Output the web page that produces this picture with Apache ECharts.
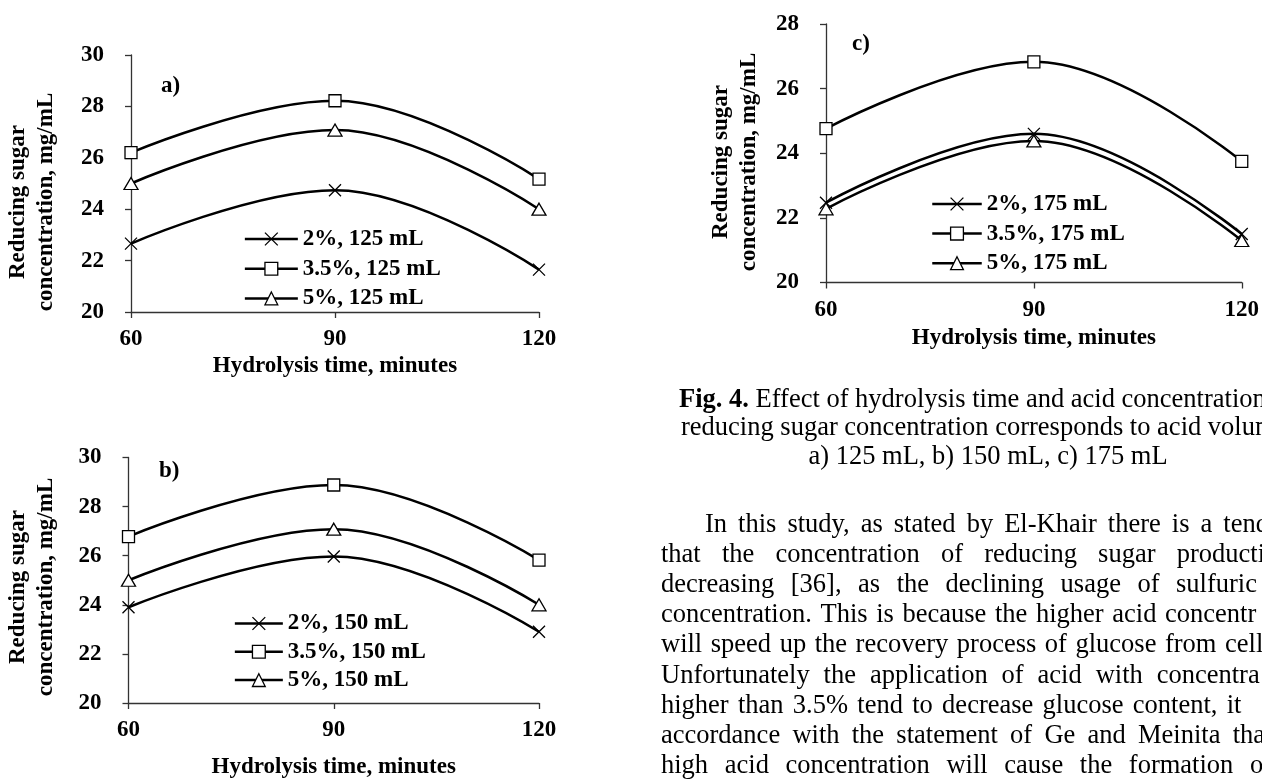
<!DOCTYPE html>
<html><head><meta charset="utf-8">
<script src="https://cdn.jsdelivr.net/npm/echarts@6/dist/echarts.min.js"></script>
<style>html,body{margin:0;padding:0;background:#fff;overflow:hidden}#chart{width:1262px;height:780px}</style>
</head><body><div id="chart"></div>
<script>
// ---------- data ----------
const times = [60, 90, 120];
const xTicks = { min: 60, max: 120, step: 30 };
const yTicksAB = { min: 20, max: 30, step: 2 };
const yTicksC = { min: 20, max: 28, step: 2 };

const namesA = ['2%, 125 mL', '3.5%, 125 mL', '5%, 125 mL'];
const a2  = [22.66, 24.74, 21.65];
const a35 = [26.20, 28.22, 25.17];
const a5  = [25.00, 27.08, 24.00];

const namesB = ['2%, 150 mL', '3.5%, 150 mL', '5%, 150 mL'];
const b2  = [23.90, 25.97, 22.90];
const b35 = [26.78, 28.88, 25.82];
const b5  = [25.00, 27.08, 24.00];

const namesC = ['2%, 175 mL', '3.5%, 175 mL', '5%, 175 mL'];
const c2  = [22.47, 24.60, 21.50];
const c35 = [24.76, 26.83, 23.75];
const c5  = [22.28, 24.38, 21.30];

const panelLabels = ['a)', 'b)', 'c)'];
const yTitle = 'Reducing sugar\nconcentration, mg/mL';
const xTitle = 'Hydrolysis time, minutes';

const captionBold = 'Fig. 4.';
const captionLines = [
  ' Effect of hydrolysis time and acid concentration on',
  'reducing sugar concentration corresponds to acid volume',
  'a) 125 mL, b) 150 mL, c) 175 mL'
];
const bodyLines = [
  'In this study, as stated by El-Khair there is a tend',
  'that the concentration of reducing sugar productio',
  'decreasing [36], as the declining usage of sulfuric',
  'concentration. This is because the higher acid concentr',
  'will speed up the recovery process of glucose from cellu',
  'Unfortunately the application of acid with concentra',
  'higher than 3.5% tend to decrease glucose content, it',
  'accordance with the statement of Ge and Meinita tha',
  'high acid concentration will cause the formation o'
];

// ---------- styling ----------
const FF = 'Liberation Serif';
const FS = 23;
const BODY_FS = 26.5;
const symX = 'path://M0,0L10,10M0,10L10,0';
const symbols = [symX, 'rect', 'triangle'];

function mkSeries(names, arrs, gi) {
  return names.map((n, k) => ({
    name: n, type: 'line', xAxisIndex: gi, yAxisIndex: gi,
    data: times.map((t, i) => [t, arrs[k][i]]),
    smooth: 0.4,
    symbol: symbols[k], symbolSize: k === 2 ? [14, 12] : 12,
    color: '#000',
    lineStyle: { color: '#000', width: 2.5 },
    itemStyle: { color: '#fff', borderColor: '#000', borderWidth: 1.3 },
    z: 3
  }));
}

const lblStyle = { color: '#000', fontFamily: FF, fontWeight: 'bold', fontSize: FS };
function mkX(gi, gap) {
  return {
    gridIndex: gi, type: 'value', min: xTicks.min, max: xTicks.max, interval: xTicks.step,
    axisLine: { lineStyle: { color: '#333', width: 1.3 } },
    axisTick: { length: 6, lineStyle: { color: '#333', width: 1.3 } },
    axisLabel: Object.assign({ margin: 16 }, lblStyle),
    splitLine: { show: false },
    name: xTitle, nameLocation: 'middle', nameGap: gap, nameTextStyle: lblStyle
  };
}
function mkY(gi, t) {
  return {
    gridIndex: gi, type: 'value', min: t.min, max: t.max, interval: t.step,
    axisLine: { show: true, lineStyle: { color: '#333', width: 1.3 } },
    axisTick: { show: true, length: 6, lineStyle: { color: '#333', width: 1.3 } },
    axisLabel: Object.assign({ margin: 27 }, lblStyle),
    splitLine: { show: false }
  };
}
function mkLegend(names, left, top, w, gap) {
  return {
    data: names, orient: 'vertical', left, top, itemWidth: w, itemHeight: 16, itemGap: gap,
    textStyle: lblStyle, selectedMode: false,
    lineStyle: { width: 2.5 }, itemStyle: { borderWidth: 1.3 }
  };
}

// ---------- text layout ----------
const ctx = document.createElement('canvas').getContext('2d');
const bodyFont = BODY_FS + 'px "' + FF + '"';
const graphics = [];
function txt(x, y, s, opts) {
  graphics.push({ type: 'text', x, y, silent: true, style: Object.assign({
    text: s, fill: '#000', fontFamily: FF, fontSize: BODY_FS, align: 'left', verticalAlign: 'middle'
  }, opts || {}) });
}
// panel labels
txt(161, 86, panelLabels[0], { fontSize: FS, fontWeight: 'bold' });
txt(159, 471, panelLabels[1], { fontSize: FS, fontWeight: 'bold' });
txt(852, 44, panelLabels[2], { fontSize: FS, fontWeight: 'bold' });
// y titles
[[32, 202], [32, 587], [735, 162]].forEach(p => {
  graphics.push({ type: 'text', x: p[0], y: p[1], rotation: Math.PI / 2, silent: true,
    style: { text: yTitle, fill: '#000', fontFamily: FF, fontSize: FS, fontWeight: 'bold',
      align: 'center', verticalAlign: 'middle', lineHeight: 28.5 } });
});
// caption
ctx.font = 'bold ' + bodyFont;
const wb = ctx.measureText(captionBold).width;
txt(679, 400, captionBold, { fontWeight: 'bold' });
txt(679 + wb, 400, captionLines[0]);
txt(681, 428.5, captionLines[1]);
txt(988, 457, captionLines[2], { align: 'center' });
// justified body text
ctx.font = bodyFont;
const bodyLeft = [705, 661, 661, 661, 661, 661, 661, 661, 661];
const bodyLast = [1223.3, 1176.7, 1176, 1165, 1225, 1156.7, 1226.7, 1232.7, 1250];
const bodyY = [525, 555, 585, 615, 645, 676.5, 706.5, 736.5, 766.5];
bodyLines.forEach((line, li) => {
  const words = line.split(' ');
  const w = words.map(s => ctx.measureText(s).width);
  let sum = 0; for (let i = 0; i < words.length - 1; i++) sum += w[i];
  const gap = (bodyLast[li] - bodyLeft[li] - sum) / (words.length - 1);
  let x = bodyLeft[li];
  words.forEach((s, i) => { txt(x, bodyY[li], s); x += w[i] + gap; });
});

const chart = echarts.init(document.getElementById('chart'), null, { renderer: 'canvas' });
chart.setOption({
  animation: false,
  backgroundColor: '#fff',
  grid: [
    { left: 131, top: 55, width: 408, height: 257 },
    { left: 128.5, top: 457.5, width: 410.5, height: 246 },
    { left: 826, top: 24, width: 416, height: 258.5 }
  ],
  xAxis: [mkX(0, 43), mkX(1, 53), mkX(2, 44)],
  yAxis: [mkY(0, yTicksAB), mkY(1, yTicksAB), mkY(2, yTicksC)],
  legend: [
    mkLegend(namesA, 238.6, 222.5, 53, 6.7),
    mkLegend(namesB, 228.6, 607, 48, 5.3),
    mkLegend(namesC, 926, 187.5, 49.5, 6.6)
  ],
  series: [].concat(mkSeries(namesA, [a2, a35, a5], 0), mkSeries(namesB, [b2, b35, b5], 1), mkSeries(namesC, [c2, c35, c5], 2)),
  graphic: graphics
});
</script></body></html>
